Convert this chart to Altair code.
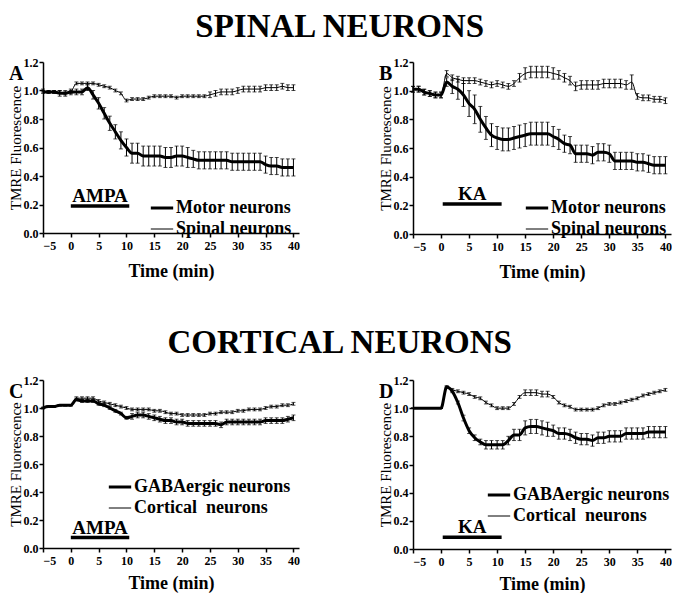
import altair as alt
import pandas as pd

SERIF = "Liberation Serif"

times = list(range(-5, 41))

# Panel A (AMPA, spinal)
a_motor = [0.99, 0.99, 0.99, 0.98, 0.98, 0.99,
           0.99, 0.99, 1.02, 0.97, 0.91, 0.84, 0.77, 0.71, 0.65, 0.60,
           0.56, 0.56, 0.54, 0.54, 0.54, 0.54, 0.53, 0.53, 0.54, 0.54,
           0.53, 0.52, 0.51, 0.51, 0.51, 0.51, 0.51, 0.51, 0.50, 0.50,
           0.50, 0.50, 0.50, 0.50, 0.48, 0.47, 0.47, 0.46, 0.46, 0.46]
a_motor_err = [0.01, 0.01, 0.01, 0.02, 0.02, 0.02,
               0.02, 0.02, 0.02, 0.03, 0.04, 0.04, 0.05, 0.05, 0.06, 0.06,
               0.07, 0.07, 0.07, 0.07, 0.07, 0.07, 0.07, 0.07, 0.07, 0.07,
               0.07, 0.06, 0.06, 0.06, 0.06, 0.06, 0.06, 0.06, 0.06, 0.06,
               0.06, 0.06, 0.06, 0.06, 0.06, 0.06, 0.06, 0.06, 0.06, 0.06]
a_spinal = [1.00, 0.99, 0.99, 0.99, 0.98, 0.99,
            1.05, 1.05, 1.05, 1.05, 1.04, 1.03, 1.02, 1.00, 0.98, 0.93,
            0.94, 0.94, 0.94, 0.95, 0.96, 0.96, 0.96, 0.96, 0.95, 0.96,
            0.96, 0.96, 0.96, 0.96, 0.97, 0.98, 0.99, 0.99, 0.99, 1.00,
            1.01, 1.01, 1.01, 1.01, 1.02, 1.02, 1.02, 1.03, 1.02, 1.02]
a_spinal_err = [0.01] * 30 + [0.02] * 16

# Panel B (KA, spinal)
b_motor = [1.01, 1.01, 0.99, 0.98, 0.97, 0.97,
           1.06, 1.03, 1.01, 0.97, 0.91, 0.87, 0.80, 0.74, 0.69, 0.67,
           0.66, 0.66, 0.67, 0.68, 0.69, 0.70, 0.70, 0.70, 0.70, 0.68,
           0.66, 0.63, 0.62, 0.56, 0.56, 0.56, 0.55, 0.57, 0.57, 0.56,
           0.51, 0.51, 0.51, 0.51, 0.50, 0.50, 0.49, 0.48, 0.48, 0.48]
b_motor_err = [0.02] * 6 + [0.03, 0.05, 0.07, 0.08, 0.09, 0.10, 0.09, 0.08, 0.08, 0.08,
                            0.08, 0.08, 0.08, 0.08, 0.08, 0.08, 0.08, 0.08, 0.08, 0.07,
                            0.07, 0.06, 0.06, 0.06] + [0.06] * 16
b_spinal = [1.01, 1.01, 0.99, 0.98, 0.97, 0.97,
            1.12, 1.09, 1.08, 1.07, 1.07, 1.07, 1.06, 1.05, 1.04, 1.05,
            1.04, 1.03, 1.05, 1.09, 1.12, 1.13, 1.13, 1.13, 1.13, 1.12,
            1.11, 1.09, 1.07, 1.03, 1.04, 1.04, 1.04, 1.04, 1.05, 1.05,
            1.05, 1.05, 1.04, 1.06, 0.96, 0.95, 0.95, 0.94, 0.94, 0.93]
b_spinal_err = [0.02] * 6 + [0.02] * 12 + [0.02, 0.03] + [0.04] * 6 + [0.03] * 4 + [0.03] * 9 + [0.05] + [0.02] * 6

# Panel C (AMPA, cortical)
c_gaba = [1.00, 1.01, 1.01, 1.02, 1.02, 1.02,
          1.06, 1.05, 1.05, 1.05, 1.03, 1.02, 1.00, 0.98, 0.96, 0.93,
          0.94, 0.95, 0.95, 0.94, 0.93, 0.92, 0.91, 0.91, 0.90, 0.90,
          0.89, 0.89, 0.89, 0.89, 0.89, 0.89, 0.88, 0.90, 0.90, 0.90,
          0.90, 0.90, 0.90, 0.90, 0.91, 0.91, 0.91, 0.91, 0.92, 0.93]
c_gaba_err = [0.005] * 6 + [0.01] * 10 + [0.02] * 30
c_cort = [1.00, 1.01, 1.01, 1.02, 1.02, 1.02,
          1.07, 1.07, 1.07, 1.07, 1.05, 1.04, 1.03, 1.02, 1.01, 1.00,
          0.99, 0.99, 0.99, 0.99, 0.98, 0.98, 0.97, 0.96, 0.96, 0.95,
          0.95, 0.95, 0.95, 0.95, 0.96, 0.96, 0.97, 0.97, 0.97, 0.98,
          0.98, 0.99, 0.99, 0.99, 1.00, 1.01, 1.01, 1.02, 1.02, 1.03]
c_cort_err = [0.005] * 6 + [0.01] * 40

# Panel D (KA, cortical)
d_gaba = [1.00, 1.00, 1.00, 1.00, 1.00, 1.00,
          1.15, 1.12, 1.04, 0.93, 0.84, 0.79, 0.76, 0.74, 0.74, 0.74,
          0.74, 0.77, 0.81, 0.81, 0.86, 0.87, 0.87, 0.86, 0.85, 0.84,
          0.82, 0.82, 0.81, 0.79, 0.78, 0.78, 0.77, 0.79, 0.79, 0.80,
          0.80, 0.80, 0.82, 0.82, 0.82, 0.82, 0.83, 0.83, 0.83, 0.83]
d_gaba_err = [0.0] * 6 + [0.0, 0.01, 0.01, 0.02, 0.02, 0.02, 0.02, 0.03, 0.03, 0.03,
                          0.03, 0.03, 0.04, 0.04, 0.05, 0.05, 0.05, 0.05, 0.05, 0.04] + [0.04] * 20
d_cort = [1.00, 1.00, 1.00, 1.00, 1.00, 1.00,
          1.15, 1.13, 1.12, 1.11, 1.10, 1.08, 1.07, 1.04, 1.02, 1.00,
          1.00, 1.00, 1.03, 1.08, 1.11, 1.11, 1.11, 1.10, 1.10, 1.08,
          1.04, 1.02, 1.01, 0.99, 0.99, 0.99, 0.99, 1.00, 1.02, 1.03,
          1.03, 1.04, 1.05, 1.06, 1.07, 1.09, 1.10, 1.11, 1.12, 1.13]
d_cort_err = [0.0] * 6 + [0.01] * 14 + [0.02] * 5 + [0.01] * 21

spinal_names = ["Motor neurons", "Spinal neurons"]
cortical_names = ["GABAergic neurons", "Cortical\u00a0 neurons"]

drug_labels = ["AMPA", "KA", "AMPA", "KA"]
drug_start = [0.0, 0.3, 0.0, 0.3]
drug_end = [10.5, 10.8, 10.5, 10.8]
drug_level = [0.19, 0.21, 0.075, 0.083]

y_ticks = [0.0, 0.2, 0.4, 0.6, 0.8, 1.0, 1.2]
x_ticks = list(range(-5, 41, 5))


def panel(letter, s1, e1, s2, e2, names, k, w, h, lx, ly, xtp):
    field = "series" + letter
    rows = []
    for name, vals, errs in ((names[0], s1, e1), (names[1], s2, e2)):
        for t, v, e in zip(times, vals, errs):
            rows.append({"time": t, "value": v, "lo": v - e, "hi": v + e, field: name})
    df = pd.DataFrame(rows)
    xscale = alt.Scale(domain=[-5, 41], nice=False, zero=False)
    yscale = alt.Scale(domain=[0, 1.2], nice=False)
    xaxis = alt.Axis(values=x_ticks, title="Time (min)", format="d",
                     labelOverlap=False, titlePadding=xtp)
    yaxis = alt.Axis(values=y_ticks, format=".1f", title="TMRE Fluorescence",
                     labelOverlap=False)

    def X(f):
        return alt.X(f, scale=xscale, axis=xaxis)

    def Y(f):
        return alt.Y(f, scale=yscale, axis=yaxis)

    base = alt.Chart(df)
    bars = base.mark_rule(color="black", strokeWidth=1).encode(
        x=X("time:Q"), y=Y("lo:Q"), y2="hi:Q")
    cap_hi = base.mark_tick(color="black", orient="horizontal", size=4, thickness=1).encode(
        x=X("time:Q"), y=Y("hi:Q"))
    cap_lo = base.mark_tick(color="black", orient="horizontal", size=4, thickness=1).encode(
        x=X("time:Q"), y=Y("lo:Q"))
    lines = base.mark_line(color="black", interpolate="monotone").encode(
        x=X("time:Q"), y=Y("value:Q"),
        strokeWidth=alt.StrokeWidth(
            field + ":N",
            scale=alt.Scale(domain=names, range=[3, 1]),
            sort=names,
            legend=alt.Legend(
                title=None, orient="none", legendX=lx, legendY=ly,
                symbolType="stroke", symbolSize=500, symbolStrokeColor="black",
                labelFont=SERIF, labelFontSize=18, labelFontWeight="bold",
                labelColor="black", labelOffset=1, rowPadding=0, padding=0,
                labelLimit=300,
            ),
        ),
    )
    ddf = pd.DataFrame({"label": [drug_labels[k]], "start": [drug_start[k]],
                        "end": [drug_end[k]], "level": [drug_level[k]]})
    ddf["mid"] = (ddf["start"] + ddf["end"]) / 2
    dbar = alt.Chart(ddf).mark_rule(color="black", strokeWidth=3.5).encode(
        x=X("start:Q"), x2="end:Q", y=Y("level:Q"))
    dtext = alt.Chart(ddf).mark_text(font=SERIF, fontSize=19, fontWeight="bold",
                                     baseline="bottom", dy=0, color="black").encode(
        x=X("mid:Q"), y=Y("level:Q"), text="label:N")
    return alt.layer(lines, bars, cap_hi, cap_lo, dbar, dtext).properties(
        width=w, height=h,
        title=alt.TitleParams(letter, anchor="start", frame="group", orient="top",
                              font=SERIF, fontSize=20, fontWeight="bold", color="black",
                              baseline="alphabetic", offset=0, dx=-34, dy=44),
    )


pa = panel("A", a_motor, a_motor_err, a_spinal, a_spinal_err, spinal_names, 0, 256, 171, 106, 133, 11)
pb = panel("B", b_motor, b_motor_err, b_spinal, b_spinal_err, spinal_names, 1, 258, 172, 111, 133, 11)
pc = panel("C", c_gaba, c_gaba_err, c_cort, c_cort_err, cortical_names, 2, 256, 168, 64, 94, 8)
pd_ = panel("D", d_gaba, d_gaba_err, d_cort, d_cort_err, cortical_names, 3, 258, 169, 73, 102, 8)

title_style = dict(font=SERIF, fontSize=33, fontWeight="bold", color="black", anchor="middle")

row1 = alt.hconcat(pa, pb, spacing=78).properties(
    title=alt.TitleParams("SPINAL NEURONS", offset=12, **title_style)
).resolve_scale(strokeWidth="independent")
row2 = alt.hconcat(pc, pd_, spacing=78).properties(
    title=alt.TitleParams("CORTICAL NEURONS", offset=14, **title_style)
).resolve_scale(strokeWidth="independent")

chart = alt.vconcat(row1, row2, spacing=46).properties(
    padding={"top": 3, "left": 0, "right": 0, "bottom": 0}
).resolve_scale(strokeWidth="independent").configure_view(
    stroke=None
).configure_axis(
    grid=False, domainColor="black", domainWidth=1.5, tickColor="black", tickWidth=1.5,
    tickSize=4, labelFont=SERIF, labelFontWeight="bold", labelFontSize=12,
    labelColor="black", titleColor="black", labelPadding=3, labelOverlap=False,
).configure_axisX(
    titleFont=SERIF, titleFontSize=18, titleFontWeight="bold",
).configure_axisY(
    titleFont=SERIF, titleFontSize=15, titleFontWeight="normal", titlePadding=0,
    labelPadding=1,
)

chart.save("out.html", embed_options={"renderer": "svg", "actions": False})
